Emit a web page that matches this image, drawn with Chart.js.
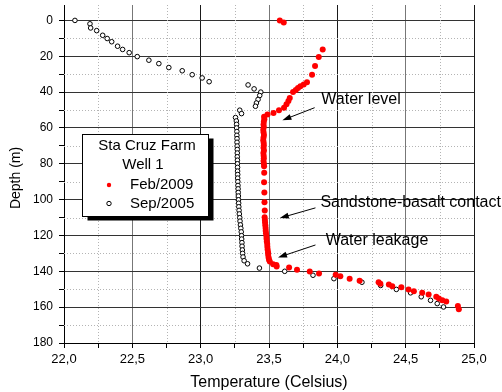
<!DOCTYPE html>
<html>
<head>
<meta charset="utf-8">
<script src="https://cdn.jsdelivr.net/npm/chart.js@4"></script>
<style>
  body { margin: 0; background: #fff; }
  #wrap { width: 502px; height: 392px; }
</style>
</head>
<body>
<div id="wrap"><canvas id="profileChart"></canvas></div>
<script>
// temperature profiles, Sta Cruz Farm well 1
const feb2009Temp = [
  23.579, 23.608, 23.893, 23.864, 23.837, 23.815, 23.778, 23.754, 23.730, 23.712,
  23.696, 23.676, 23.652, 23.642, 23.628, 23.610, 23.573, 23.533, 23.489, 23.464,
  23.466, 23.462, 23.460, 23.462, 23.458, 23.460, 23.463, 23.460, 23.458, 23.461,
  23.462, 23.460, 23.463, 23.459, 23.461, 23.462, 23.460, 23.462, 23.464,
  23.465, 23.464, 23.466, 23.467, 23.469,
  23.468, 23.470, 23.471, 23.473, 23.475, 23.476, 23.478, 23.481, 23.482, 23.484,
  23.487, 23.488, 23.490, 23.493, 23.494, 23.497, 23.500,
  23.506, 23.530, 23.554, 23.556, 23.647, 23.705, 23.798, 23.866, 23.988, 24.022,
  24.090, 24.163, 24.302, 24.315, 24.377, 24.402, 24.468, 24.521, 24.560, 24.621,
  24.668, 24.724, 24.743, 24.768, 24.797, 24.882, 24.889
];
const feb2009Depth = [
  0.0, 1.2, 16.2, 20.4, 25.4, 30.3, 34.5, 35.8, 36.7, 37.7,
  38.8, 40.0, 43.3, 45.0, 46.8, 48.7, 50.1, 51.6, 52.5, 53.8,
  55.2, 56.6, 58.1, 59.5, 61.0, 62.4, 63.9, 65.3, 66.8, 68.2,
  69.7, 71.1, 72.6, 74.0, 75.5, 76.9, 78.4, 79.8, 81.4,
  85.0, 90.3, 96.0, 101.4, 106.1,
  109.8, 111.3, 112.8, 114.3, 115.8, 117.3, 118.8, 120.3, 121.8, 123.3,
  124.8, 126.3, 127.8, 129.3, 130.8, 132.3, 133.6,
  134.5, 136.0, 136.5, 137.3, 137.9, 139.1, 140.1, 141.2, 141.9, 142.8,
  144.1, 145.2, 146.1, 147.0, 147.4, 148.3, 148.9, 150.1, 151.1, 152.0,
  152.9, 154.2, 155.1, 156.2, 156.9, 159.3, 161.1
];

const sep2005Temp = [
  22.080, 22.190, 22.195, 22.239, 22.283, 22.316, 22.349, 22.392, 22.429, 22.477,
  22.536, 22.621, 22.694, 22.767, 22.865, 22.938, 23.011, 23.062, 23.347, 23.391,
  23.440, 23.432, 23.420, 23.408, 23.401, 23.286, 23.299, 23.255,
  23.261, 23.263, 23.263, 23.265, 23.265, 23.266, 23.266, 23.267, 23.268, 23.268,
  23.268, 23.269, 23.269, 23.270, 23.270, 23.271, 23.271, 23.272, 23.273, 23.274,
  23.275, 23.276, 23.277, 23.278, 23.279, 23.281, 23.283, 23.286,
  23.288, 23.291, 23.294, 23.297, 23.299, 23.300, 23.302, 23.303, 23.305, 23.307,
  23.310, 23.318, 23.343, 23.430,
  23.615, 23.822, 23.975, 24.180, 24.317, 24.432, 24.536, 24.614, 24.682, 24.731, 24.777
];
const sep2005Depth = [
  0.0, 1.9, 4.2, 5.7, 8.3, 10.1, 11.9, 14.4, 16.2, 18.0,
  20.2, 22.2, 24.1, 26.3, 28.1, 30.3, 32.1, 34.2, 36.0, 38.2,
  40.0, 41.9, 44.1, 46.1, 47.9, 50.1, 52.0, 54.2,
  56.1, 58.0, 60.0, 62.0, 64.1, 66.0, 68.0, 70.1, 72.0, 74.0,
  76.1, 78.0, 80.0, 82.0, 84.1, 86.0, 88.0, 90.0, 92.1, 94.0,
  96.0, 98.0, 100.1, 102.0, 104.0, 106.0, 108.0, 110.1,
  112.0, 114.1, 116.0, 118.0, 120.1, 122.0, 124.0, 126.0, 128.1, 130.0,
  132.0, 134.1, 135.8, 138.2,
  140.0, 142.2, 144.1, 146.1, 147.9, 150.1, 152.0, 154.2, 156.2, 158.0, 159.9
];

const tempTicks = [22, 22.25, 22.5, 22.75, 23, 23.25, 23.5, 23.75, 24, 24.25, 24.5, 24.75, 25];
const depthTicks = [0, 10, 20, 30, 40, 50, 60, 70, 80, 90, 100, 110, 120, 130, 140, 150, 160, 170, 180];

const notes = [
  { text: 'Water level', tx: 23.883, ty: 46.5, from: [23.834, 48.7], to: [23.598, 55.7] },
  { text: 'Sandstone-basalt contact', tx: 23.876, ty: 103.9, from: [23.840, 104.6], to: [23.579, 110.3] },
  { text: 'Water leakage', tx: 23.915, ty: 125.3, from: [23.840, 125.3], to: [23.566, 132.3] }
];

const FONT = '"Liberation Sans", Arial, sans-serif';

const isMajorT = v => Math.abs(v * 2 - Math.round(v * 2)) < 1e-6;
const isMajorD = v => v % 20 === 0;

// dotted minor grid lines
const minorGrid = {
  id: 'minorGrid',
  beforeDatasetsDraw(chart) {
    const { ctx, chartArea: a, scales: { x, y } } = chart;
    ctx.save();
    ctx.strokeStyle = '#b4b4b4';
    ctx.lineWidth = 1;
    ctx.setLineDash([1, 2]);
    tempTicks.filter(v => !isMajorT(v)).forEach(v => {
      const px = Math.round(x.getPixelForValue(v)) + 0.5;
      ctx.beginPath(); ctx.moveTo(px, a.top); ctx.lineTo(px, a.bottom); ctx.stroke();
    });
    depthTicks.filter(v => !isMajorD(v)).forEach(v => {
      const py = Math.round(y.getPixelForValue(v)) + 0.5;
      ctx.beginPath(); ctx.moveTo(a.left, py); ctx.lineTo(a.right, py); ctx.stroke();
    });
    ctx.restore();
  }
};

const extras = {
  id: 'extras',
  afterDraw(chart) {
    const { ctx, scales: { x, y } } = chart;
    ctx.save();
    ctx.fillStyle = '#000';
    ctx.strokeStyle = '#000';

    // y axis title
    ctx.save();
    ctx.translate(16, 178);
    ctx.rotate(-Math.PI / 2);
    ctx.font = '14px ' + FONT;
    ctx.textAlign = 'center';
    ctx.textBaseline = 'middle';
    ctx.fillText('Depth (m)', 0, 0);
    ctx.restore();

    // annotations with arrows
    ctx.font = '16px ' + FONT;
    ctx.textAlign = 'left';
    ctx.textBaseline = 'alphabetic';
    notes.forEach(n => {
      ctx.fillText(n.text, x.getPixelForValue(n.tx), y.getPixelForValue(n.ty));
      const x1 = x.getPixelForValue(n.from[0]), y1 = y.getPixelForValue(n.from[1]);
      const x2 = x.getPixelForValue(n.to[0]), y2 = y.getPixelForValue(n.to[1]);
      const ang = Math.atan2(y2 - y1, x2 - x1);
      ctx.lineWidth = 1;
      ctx.beginPath(); ctx.moveTo(x1, y1); ctx.lineTo(x2 - 6 * Math.cos(ang), y2 - 6 * Math.sin(ang)); ctx.stroke();
      ctx.beginPath();
      ctx.moveTo(x2, y2);
      ctx.lineTo(x2 - 9 * Math.cos(ang) + 3 * Math.sin(ang), y2 - 9 * Math.sin(ang) - 3 * Math.cos(ang));
      ctx.lineTo(x2 - 9 * Math.cos(ang) - 3 * Math.sin(ang), y2 - 9 * Math.sin(ang) + 3 * Math.cos(ang));
      ctx.closePath();
      ctx.fill();
    });

    // legend box with shadow
    const bx = 82.5, by = 134.5, bw = 126, bh = 82;
    ctx.fillStyle = '#000';
    ctx.fillRect(bx + 5, by + 4, bw, bh);
    ctx.fillStyle = '#fff';
    ctx.fillRect(bx, by, bw, bh);
    ctx.lineWidth = 1;
    ctx.strokeRect(bx, by, bw, bh);
    ctx.fillStyle = '#000';
    ctx.font = '15px ' + FONT;
    ctx.textAlign = 'center';
    ctx.textBaseline = 'middle';
    ctx.fillText('Sta Cruz Farm', 147, 146);
    ctx.fillText('Well 1', 143, 165);
    ctx.textAlign = 'left';
    const ds = chart.data.datasets;
    [185, 203.5].forEach((ly, i) => {
      const d = ds[i];
      ctx.beginPath();
      ctx.arc(109, ly, 2.2, 0, Math.PI * 2);
      ctx.fillStyle = d.pointBackgroundColor;
      ctx.fill();
      if (d.pointBorderWidth) {
        ctx.strokeStyle = d.pointBorderColor;
        ctx.lineWidth = 1;
        ctx.stroke();
      }
      ctx.fillStyle = '#000';
      ctx.fillText(d.label, 130, ly);
    });
    ctx.restore();
  }
};

new Chart(document.getElementById('profileChart'), {
  type: 'scatter',
  data: {
    datasets: [
      {
        label: 'Feb/2009',
        data: feb2009Temp.map((t, i) => ({ x: t, y: feb2009Depth[i] })),
        pointRadius: 3,
        pointBackgroundColor: '#ff0000',
        pointBorderColor: '#ff0000',
        pointBorderWidth: 0
      },
      {
        label: 'Sep/2005',
        data: sep2005Temp.map((t, i) => ({ x: t, y: sep2005Depth[i] })),
        pointRadius: 2.3,
        pointBackgroundColor: '#ffffff',
        pointBorderColor: '#000000',
        pointBorderWidth: 1
      }
    ]
  },
  options: {
    responsive: true,
    maintainAspectRatio: false,
    animation: false,
    events: [],
    layout: { padding: { top: 0, right: 28, bottom: 0, left: 0 } },
    plugins: {
      legend: { display: false },
      tooltip: { enabled: false }
    },
    scales: {
      x: {
        type: 'linear',
        min: 22,
        max: 25,
        afterBuildTicks: s => { s.ticks = tempTicks.map(v => ({ value: v })); },
        afterFit: s => { s.height = 49; s.paddingLeft = 0; s.paddingRight = 0; },
        ticks: {
          color: '#000',
          font: { size: 13, family: FONT },
          padding: 4,
          maxRotation: 0,
          autoSkip: false,
          callback: v => isMajorT(v) ? v.toFixed(1).replace('.', ',') : ''
        },
        grid: {
          color: c => !isMajorT(c.tick.value) ? 'rgba(0,0,0,0)' : (Number.isInteger(c.tick.value) ? '#1a1a1a' : '#777777'),
          tickColor: '#000',
          tickLength: 5
        },
        border: { color: '#000', width: 1 },
        title: {
          display: true,
          text: 'Temperature (Celsius)',
          color: '#000',
          font: { size: 16, family: FONT },
          padding: { top: 0, bottom: 0 }
        }
      },
      y: {
        type: 'linear',
        reverse: true,
        min: -8.6,
        max: 180,
        afterBuildTicks: s => { s.ticks = depthTicks.map(v => ({ value: v })); },
        afterFit: s => { s.width = 64; s.paddingTop = 0; s.paddingBottom = 0; },
        ticks: {
          color: '#000',
          font: { size: 12, family: FONT },
          padding: 6,
          autoSkip: false,
          callback: v => isMajorD(v) ? String(v) : ''
        },
        grid: {
          color: c => isMajorD(c.tick.value) ? '#333333' : 'rgba(0,0,0,0)',
          tickColor: '#000',
          tickLength: 5
        },
        border: { color: '#000', width: 1 }
      }
    }
  },
  plugins: [minorGrid, extras]
});
</script>
</body>
</html>
